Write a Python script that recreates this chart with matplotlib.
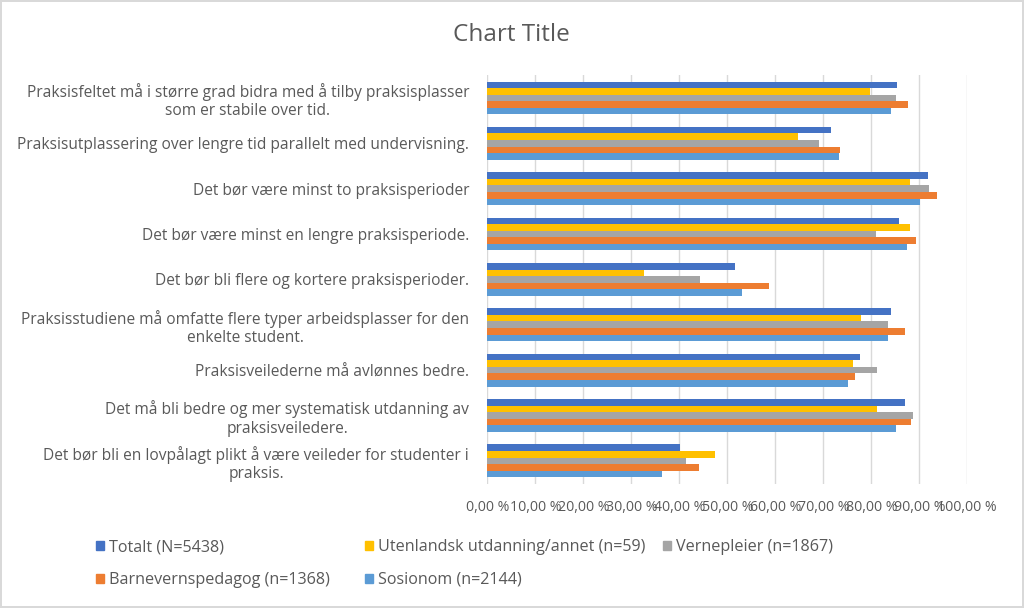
import matplotlib
matplotlib.use("Agg")
import matplotlib.pyplot as plt
import numpy as np
from matplotlib.patches import Patch

plt.rcParams['font.family'] = ['Open Sans', 'DejaVu Sans']

categories = [
    "Praksisfeltet må i større grad bidra med å tilby praksisplasser\nsom er stabile over tid.",
    "Praksisutplassering over lengre tid parallelt med undervisning.",
    "Det bør være minst to praksisperioder",
    "Det bør være minst en lengre praksisperiode.",
    "Det bør bli flere og kortere praksisperioder.",
    "Praksisstudiene må omfatte flere typer arbeidsplasser for den\nenkelte student.",
    "Praksisveilederne må avlønnes bedre.",
    "Det må bli bedre og mer systematisk utdanning av\npraksisveiledere.",
    "Det bør bli en lovpålagt plikt å være veileder for studenter i\npraksis.",
]

series_names = [
    "Totalt (N=5438)",
    "Utenlandsk utdanning/annet (n=59)",
    "Vernepleier (n=1867)",
    "Barnevernspedagog (n=1368)",
    "Sosionom (n=2144)",
]

totalt      = [85.4, 71.7, 91.8, 85.8, 51.5, 84.2, 77.6, 87.0, 40.1]
utenlandsk  = [79.7, 64.8, 88.1, 88.0, 32.6, 77.8, 76.2, 81.2, 47.4]
vernepleier = [85.1, 69.0, 92.0, 81.0, 44.4, 83.4, 81.2, 88.6, 41.3]
barnevern   = [87.6, 73.4, 93.7, 89.4, 58.7, 87.0, 76.7, 88.3, 44.1]
sosionom    = [84.2, 73.2, 90.2, 87.4, 53.0, 83.4, 75.2, 85.1, 36.3]

values = [totalt, utenlandsk, vernepleier, barnevern, sosionom]
colors = ["#4472C4", "#FFC000", "#A5A5A5", "#ED7D31", "#5B9BD5"]

tick_values = list(range(0, 101, 10))
tick_labels = [f"{v},00 %" for v in tick_values]

W, H = 1024, 608
fig = plt.figure(figsize=(W / 100, H / 100), dpi=100)
fig.patch.set_facecolor("white")
fig.patch.set_edgecolor("#D9D9D9")
fig.patch.set_linewidth(1.5)

ax = fig.add_axes([487.3 / W, 1 - 483.5 / H, 480 / W, 408.2 / H])

n = len(categories)
y = np.arange(n)
bh = 0.145
for i, (vals, c, name) in enumerate(zip(values, colors, series_names)):
    offs = (i - 2) * bh
    ax.barh(y + offs, vals, height=bh, color=c, label=name, zorder=3)

ax.set_xlim(0, 100)
ax.set_ylim(n - 0.5, -0.5)
ax.set_xticks(tick_values)
ax.set_xticklabels(tick_labels, fontsize=10.2, color="#595959")
ax.set_yticks(y)
ax.set_yticklabels(categories, fontsize=11.2, color="#595959", multialignment="center")
ax.tick_params(axis="both", length=0)
ax.tick_params(axis="x", pad=12)
ax.tick_params(axis="y", pad=13)
ax.grid(axis="x", color="#D9D9D9", linewidth=1, zorder=0)
for s in ax.spines.values():
    s.set_visible(False)

fig.text(511 / W, 1 - 35 / H, "Chart Title", ha="center", va="center",
         fontsize=17.5, color="#595959")

leg_pos = [(96, 547), (365, 547), (663, 547), (96, 580), (365, 580)]
for (lx, ly), c, name in zip(leg_pos, colors, series_names):
    fig.legend(handles=[Patch(facecolor=c, edgecolor=c)], labels=[name],
               loc="center left", bbox_to_anchor=(lx / W, 1 - ly / H),
               frameon=False, handlelength=0.5, handleheight=0.5,
               handletextpad=0.3, borderpad=0, borderaxespad=0,
               fontsize=11.6, labelcolor="#595959")

fig.savefig("out.png", dpi=100, facecolor=fig.get_facecolor(), edgecolor=fig.get_edgecolor())
